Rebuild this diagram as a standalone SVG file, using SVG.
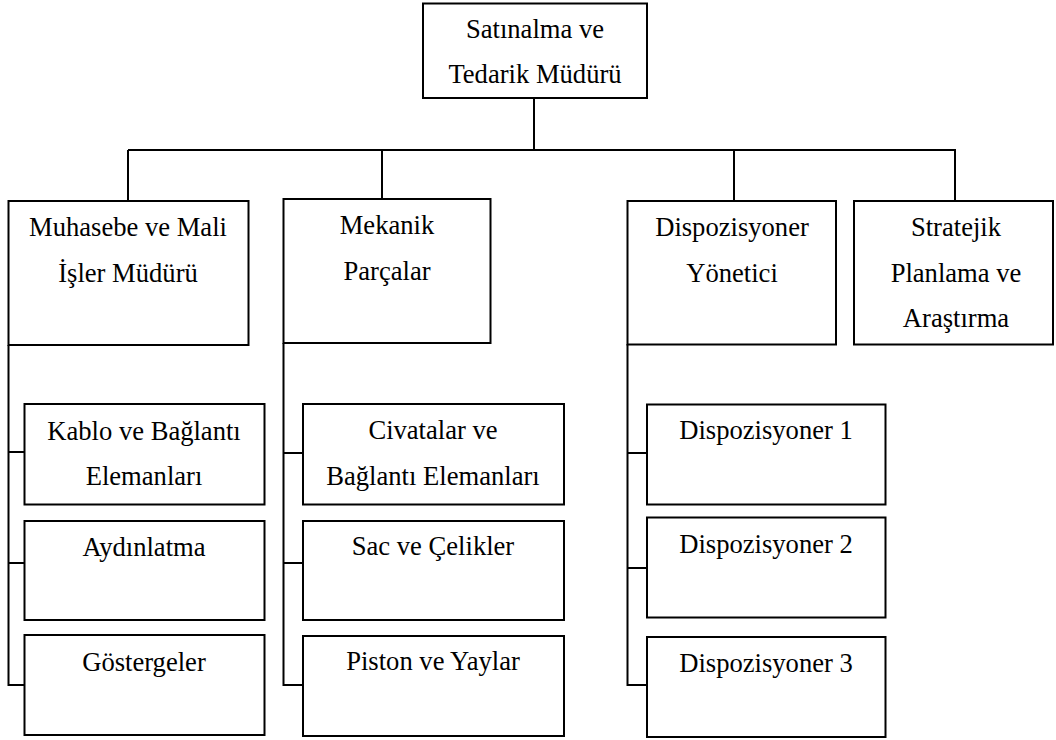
<svg xmlns="http://www.w3.org/2000/svg" width="1056" height="740" viewBox="0 0 1056 740">
  <style>
    .box { fill: #ffffff; stroke: #000000; stroke-width: 2; }
    .link { fill: none; stroke: #000000; stroke-width: 2; }
    .lbl { font-family: "Liberation Serif", "Times New Roman", serif; font-size: 26.6px; fill: #000000; text-anchor: middle; }
  </style>
  <rect x="0" y="0" width="1056" height="740" fill="#ffffff"/>

  <!-- tree lines: top bus, drops to each department, side rails to sub-units -->
  <g id="connectors" class="link">
    <path d="M534,98 V150"/>
    <path d="M128,150 H956"/>
    <path d="M128,150 V201"/>
    <path d="M382,150 V199"/>
    <path d="M734,150 V201"/>
    <path d="M955,150 V201"/>
    <!-- Muhasebe rail -->
    <path d="M8.5,345 V685 H24"/>
    <path d="M8.5,452 H24"/>
    <path d="M8.5,563 H24"/>
    <!-- Mekanik rail -->
    <path d="M283.5,343 V685 H303"/>
    <path d="M283.5,453 H303"/>
    <path d="M283.5,563 H303"/>
    <!-- Dispozisyoner rail -->
    <path d="M627.5,344 V685 H647"/>
    <path d="M627.5,453 H647"/>
    <path d="M627.5,568 H647"/>
  </g>

  <g id="satinalma">
    <rect class="box" x="423" y="3.5" width="224" height="94.5"/>
    <text class="lbl" x="535" y="38">Satınalma ve</text>
    <text class="lbl" x="535" y="83">Tedarik Müdürü</text>
  </g>

  <g id="muhasebe">
    <rect class="box" x="8.5" y="201" width="240" height="144"/>
    <text class="lbl" x="128" y="236">Muhasebe ve Mali</text>
    <text class="lbl" x="128" y="282">İşler Müdürü</text>
  </g>

  <g id="mekanik">
    <rect class="box" x="283.5" y="199" width="207" height="144"/>
    <text class="lbl" x="387" y="234">Mekanik</text>
    <text class="lbl" x="387" y="280">Parçalar</text>
  </g>

  <g id="dispozisyoner-yonetici">
    <rect class="box" x="627.5" y="201" width="208.5" height="143.5"/>
    <text class="lbl" x="732" y="236">Dispozisyoner</text>
    <text class="lbl" x="732" y="282">Yönetici</text>
  </g>

  <g id="stratejik">
    <rect class="box" x="854" y="201" width="199" height="143.5"/>
    <text class="lbl" x="956" y="236">Stratejik</text>
    <text class="lbl" x="956" y="282">Planlama ve</text>
    <text class="lbl" x="956" y="327">Araştırma</text>
  </g>

  <g id="kablo">
    <rect class="box" x="24.5" y="404" width="240" height="100.5"/>
    <text class="lbl" x="144" y="440">Kablo ve Bağlantı</text>
    <text class="lbl" x="144" y="485">Elemanları</text>
  </g>

  <g id="aydinlatma">
    <rect class="box" x="24.5" y="521" width="240" height="99"/>
    <text class="lbl" x="144" y="556">Aydınlatma</text>
  </g>

  <g id="gostergeler">
    <rect class="box" x="24.5" y="635" width="240" height="100"/>
    <text class="lbl" x="144" y="671">Göstergeler</text>
  </g>

  <g id="civatalar">
    <rect class="box" x="303" y="404" width="261" height="100.5"/>
    <text class="lbl" x="433" y="439">Civatalar ve</text>
    <text class="lbl" x="433" y="485">Bağlantı Elemanları</text>
  </g>

  <g id="sac">
    <rect class="box" x="303" y="521" width="261" height="99"/>
    <text class="lbl" x="433" y="555">Sac ve Çelikler</text>
  </g>

  <g id="piston">
    <rect class="box" x="303" y="636" width="261" height="100"/>
    <text class="lbl" x="433" y="670">Piston ve Yaylar</text>
  </g>

  <g id="dispozisyoner-1">
    <rect class="box" x="647" y="404.5" width="238.5" height="100"/>
    <text class="lbl" x="766" y="439">Dispozisyoner 1</text>
  </g>

  <g id="dispozisyoner-2">
    <rect class="box" x="647" y="517.5" width="238.5" height="100"/>
    <text class="lbl" x="766" y="553">Dispozisyoner 2</text>
  </g>

  <g id="dispozisyoner-3">
    <rect class="box" x="647" y="637" width="238.5" height="100"/>
    <text class="lbl" x="766" y="672">Dispozisyoner 3</text>
  </g>
</svg>
